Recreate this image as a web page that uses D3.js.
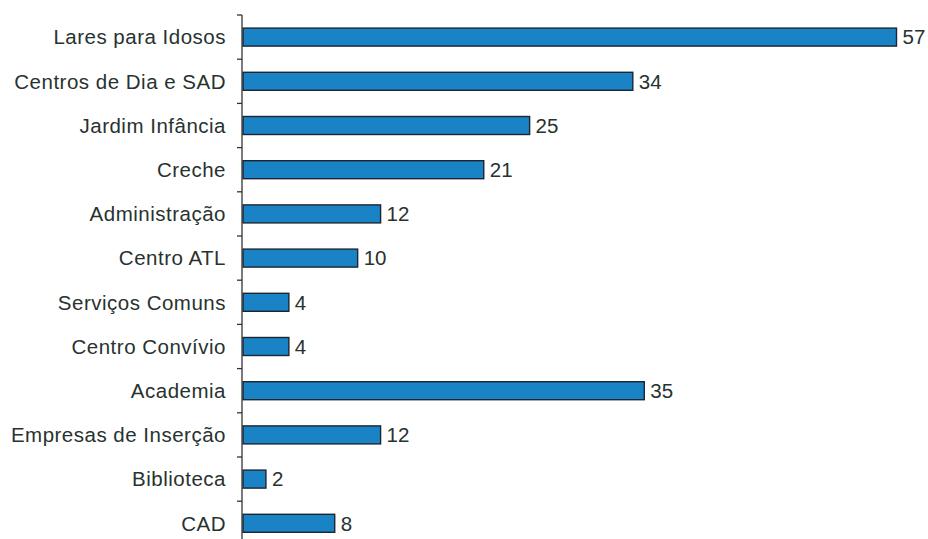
<!DOCTYPE html>
<html><head><meta charset="utf-8">
<script src="https://cdn.jsdelivr.net/npm/d3@7"></script>
<style>body{margin:0;background:#fff;}svg{display:block;}</style>
</head><body>
<svg id="c" width="928" height="539"></svg>
<script>
const categories = ["Lares para Idosos","Centros de Dia e SAD","Jardim Infância","Creche","Administração","Centro ATL","Serviços Comuns","Centro Convívio","Academia","Empresas de Inserção","Biblioteca","CAD"];
const values = [57,34,25,21,12,10,4,4,35,12,2,8];

const svg = d3.select("#c");
const axisX = 242, axisTop = 15, step = 44.2;
const x = d3.scaleLinear().domain([0,57]).range([axisX+1, 896.5]);
const y = d3.scaleBand().domain(categories).range([axisTop, axisTop+step*categories.length]).paddingInner(0.6).paddingOuter(0.3);

// bars
svg.selectAll("rect.bar").data(values).join("rect")
  .attr("x", x(0))
  .attr("y", (d,i)=>y(categories[i]) + y.bandwidth()/2 - 9)
  .attr("width", d=>x(d)-x(0))
  .attr("height", 18)
  .attr("fill", "#1983c6")
  .attr("stroke", "#1c2630")
  .attr("stroke-width", 1.4);

// value labels
svg.selectAll("text.val").data(values).join("text")
  .attr("x", d=>x(d)+6)
  .attr("y", (d,i)=>y(categories[i]) + y.bandwidth()/2)
  .attr("dy","0.36em")
  .attr("font-family","Liberation Sans, Arial, sans-serif")
  .attr("font-size", 20.5)
  .attr("fill","#28322f")
  .text(d=>d);

// category labels
svg.selectAll("text.cat").data(categories).join("text")
  .attr("x", 226)
  .attr("y", d=>y(d)+y.bandwidth()/2)
  .attr("dy","0.36em")
  .attr("text-anchor","end")
  .attr("font-family","Liberation Sans, Arial, sans-serif")
  .attr("font-size", 20.5)
  .attr("letter-spacing", 0.5)
  .attr("fill","#28322f")
  .text(d=>d);

// axis line and ticks at band boundaries
svg.append("line").attr("x1",axisX).attr("x2",axisX).attr("y1",axisTop).attr("y2",axisTop+step*categories.length)
  .attr("stroke","#333").attr("stroke-width",1.3);
const ticks = d3.range(categories.length+1).map(i=>axisTop+step*i);
svg.selectAll("line.tk").data(ticks).join("line")
  .attr("x1",axisX-5).attr("x2",axisX).attr("y1",d=>d).attr("y2",d=>d)
  .attr("stroke","#333").attr("stroke-width",1.3);
</script>
</body></html>
